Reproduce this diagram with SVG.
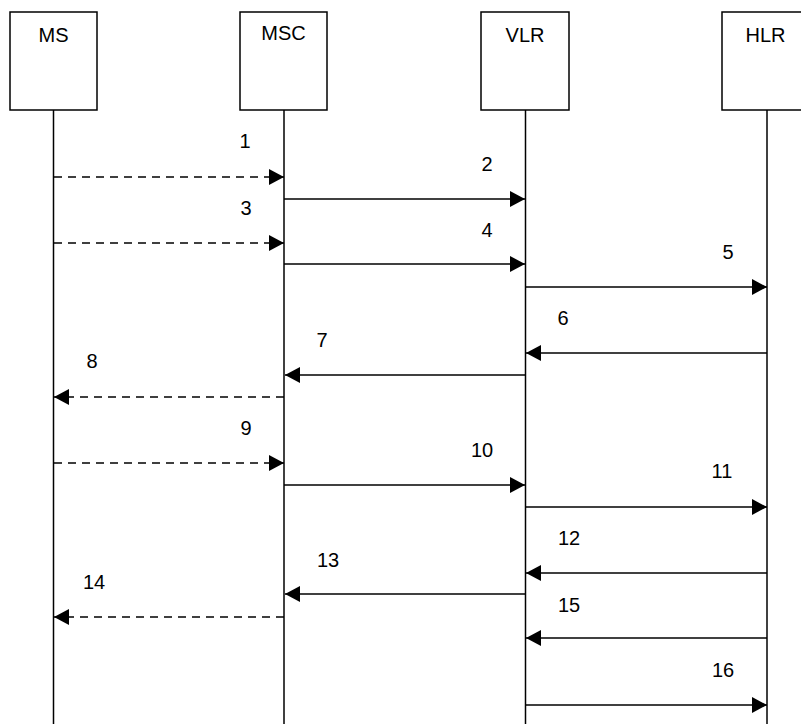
<svg xmlns="http://www.w3.org/2000/svg" width="801" height="724" viewBox="0 0 801 724">
<style>
.box{fill:#fff;stroke:#000;stroke-width:1.5}
.life{stroke:#000;stroke-width:1.5;fill:none}
.msg{stroke:#000;stroke-width:1.5;fill:none}
.dash{stroke-dasharray:8 6}
.name{font-family:"Liberation Sans",Arial,sans-serif;font-size:20px;text-anchor:middle;fill:#000}
.lbl{font-family:"Liberation Sans",Arial,sans-serif;font-size:20px;text-anchor:middle;fill:#000}
</style>
<defs>
<marker id="ah" markerWidth="15" markerHeight="16" refX="15" refY="8" orient="auto" markerUnits="userSpaceOnUse">
<path d="M0,0 L15,8 L0,16 Z" fill="#000"/>
</marker>
</defs>
<rect width="801" height="724" fill="#fff"/>
<g id="MS">
<rect class="box" x="10" y="12" width="87" height="98"/>
<text class="name" x="53.5" y="42">MS</text>
<line class="life" x1="53.5" y1="110" x2="53.5" y2="724"/>
</g>
<g id="MSC">
<rect class="box" x="240" y="12" width="87" height="98"/>
<text class="name" x="283.5" y="40">MSC</text>
<line class="life" x1="284" y1="110" x2="284" y2="724"/>
</g>
<g id="VLR">
<rect class="box" x="481" y="12" width="88" height="98"/>
<text class="name" x="525" y="42">VLR</text>
<line class="life" x1="525.5" y1="110" x2="525.5" y2="724"/>
</g>
<g id="HLR">
<rect class="box" x="722" y="12" width="90" height="98"/>
<text class="name" x="765.5" y="42">HLR</text>
<line class="life" x1="767" y1="110" x2="767" y2="724"/>
</g>
<g id="connectors">
<line class="msg dash" x1="54" y1="177" x2="284" y2="177" marker-end="url(#ah)"/>
<line class="msg" x1="284" y1="199" x2="525" y2="199" marker-end="url(#ah)"/>
<line class="msg dash" x1="54" y1="243" x2="284" y2="243" marker-end="url(#ah)"/>
<line class="msg" x1="284" y1="264" x2="525" y2="264" marker-end="url(#ah)"/>
<line class="msg" x1="525" y1="287" x2="767" y2="287" marker-end="url(#ah)"/>
<line class="msg" x1="767" y1="353" x2="526" y2="353" marker-end="url(#ah)"/>
<line class="msg" x1="525" y1="375" x2="285" y2="375" marker-end="url(#ah)"/>
<line class="msg dash" x1="284" y1="397" x2="54" y2="397" marker-end="url(#ah)"/>
<line class="msg dash" x1="54" y1="463" x2="284" y2="463" marker-end="url(#ah)"/>
<line class="msg" x1="284" y1="485" x2="525" y2="485" marker-end="url(#ah)"/>
<line class="msg" x1="525" y1="507" x2="767" y2="507" marker-end="url(#ah)"/>
<line class="msg" x1="767" y1="573" x2="526" y2="573" marker-end="url(#ah)"/>
<line class="msg" x1="525" y1="594" x2="285" y2="594" marker-end="url(#ah)"/>
<line class="msg dash" x1="284" y1="617" x2="54" y2="617" marker-end="url(#ah)"/>
<line class="msg" x1="767" y1="638" x2="526" y2="638" marker-end="url(#ah)"/>
<line class="msg" x1="525" y1="705" x2="767" y2="705" marker-end="url(#ah)"/>
<text class="lbl" x="245" y="148">1</text>
<text class="lbl" x="487" y="171">2</text>
<text class="lbl" x="246" y="215">3</text>
<text class="lbl" x="487" y="237">4</text>
<text class="lbl" x="728" y="259">5</text>
<text class="lbl" x="563" y="325">6</text>
<text class="lbl" x="322" y="347">7</text>
<text class="lbl" x="92" y="368">8</text>
<text class="lbl" x="246" y="435">9</text>
<text class="lbl" x="482" y="457">10</text>
<text class="lbl" x="722" y="478">11</text>
<text class="lbl" x="569" y="545">12</text>
<text class="lbl" x="328" y="567">13</text>
<text class="lbl" x="94" y="589">14</text>
<text class="lbl" x="569" y="612">15</text>
<text class="lbl" x="723" y="677">16</text>
</g>
</svg>
